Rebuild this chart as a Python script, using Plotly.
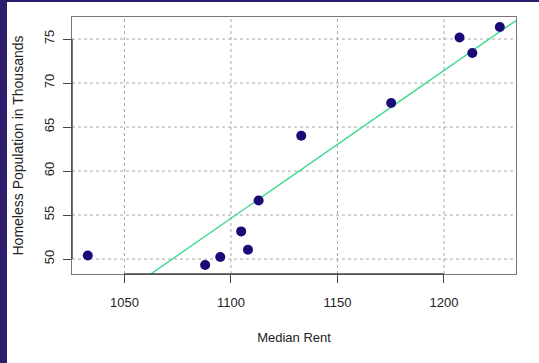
import plotly.graph_objects as go

# Median rent (USD) vs homeless population (thousands)
median_rent = [1032.8, 1087.9, 1095.0, 1104.8, 1108.0, 1113.0,
               1133.0, 1175.2, 1207.3, 1213.3, 1226.2]
homeless_k = [50.41, 49.32, 50.23, 53.14, 51.06, 56.66,
              64.0, 67.73, 75.18, 73.41, 76.36]

# Fitted trend line: y = intercept + slope * x
fit_intercept = -130.18
fit_slope = 0.168

x_ticks = [1050, 1100, 1150, 1200]
y_ticks = [50, 55, 60, 65, 70, 75]
x_range = [1025.4, 1233.8]
y_range = [48.3, 77.5]

W, H = 539, 363
ML, MR, MT, MB = 72, 23, 17, 89
plot_w = W - ML - MR
plot_h = H - MT - MB

fig = go.Figure()

fit_x = list(x_range)
fit_y = [fit_intercept + fit_slope * v for v in fit_x]
fig.add_trace(go.Scatter(
    x=fit_x, y=fit_y, mode="lines",
    line=dict(color="#3fd98b", width=1.4),
    hoverinfo="skip", showlegend=False,
))

fig.add_trace(go.Scatter(
    x=median_rent, y=homeless_k, mode="markers",
    marker=dict(color="#1a0a78", size=10, line=dict(width=0)),
    showlegend=False,
))

font_family = "Liberation Sans, Arial, sans-serif"

fig.update_layout(
    width=W, height=H,
    margin=dict(l=ML, r=MR, t=MT, b=MB, pad=0),
    paper_bgcolor="white",
    plot_bgcolor="white",
    font=dict(family=font_family, color="#222222", size=13),
    xaxis=dict(
        range=x_range, tickvals=x_ticks,
        ticktext=[str(v) for v in x_ticks],
        automargin=False, showgrid=False,
        zeroline=False,
        showline=True, mirror=True, linecolor="#777777", linewidth=1,
        ticks="outside", ticklen=8, tickcolor="#444444", tickwidth=1,
        ticklabelstandoff=8,
        tickfont=dict(size=13, color="#222222"),
        title=dict(text="Median Rent", font=dict(size=13, color="#222222"),
                   standoff=24),
    ),
    yaxis=dict(
        range=y_range, tickvals=y_ticks,
        ticktext=[str(v) for v in y_ticks],
        tickangle=-90,
        automargin=False, showgrid=False,
        zeroline=False,
        showline=True, mirror=True, linecolor="#777777", linewidth=1,
        ticks="outside", ticklen=8, tickcolor="#444444", tickwidth=1,
        ticklabelstandoff=4,
        tickfont=dict(size=13, color="#222222"),
        title=dict(text="Homeless Population in Thousands",
                   font=dict(size=14, color="#222222"), standoff=14),
    ),
)

# Dotted grid at the tick positions
grid_line = dict(color="#a8a8a8", width=1, dash="dot")
for xv in x_ticks:
    fig.add_shape(type="line", xref="x", yref="paper",
                  x0=xv, x1=xv, y0=0, y1=1, line=grid_line, layer="below")
for yv in y_ticks:
    fig.add_shape(type="line", xref="paper", yref="y",
                  x0=0, x1=1, y0=yv, y1=yv, line=grid_line, layer="below")

# Axis segments spanning the tick range
fig.add_shape(type="line", xref="x", yref="paper",
              x0=x_ticks[0], x1=x_ticks[-1], y0=0, y1=0,
              line=dict(color="#444444", width=1.5))
fig.add_shape(type="line", xref="paper", yref="y",
              x0=0, x1=0, y0=y_ticks[0], y1=y_ticks[-1],
              line=dict(color="#444444", width=1.5))

# Purple frame strips along the left and top edges of the page
purple = "#2d1b6c"
fig.add_shape(type="rect", xref="paper", yref="paper",
              x0=-ML / plot_w, x1=(7 - ML) / plot_w,
              y0=-MB / plot_h, y1=(plot_h + MT) / plot_h,
              fillcolor=purple, line=dict(width=0), layer="above")
fig.add_shape(type="rect", xref="paper", yref="paper",
              x0=-ML / plot_w, x1=(plot_w + MR) / plot_w,
              y0=(plot_h + MT - 2) / plot_h, y1=(plot_h + MT) / plot_h,
              fillcolor=purple, line=dict(width=0), layer="above")

fig.write_html("out.html")
